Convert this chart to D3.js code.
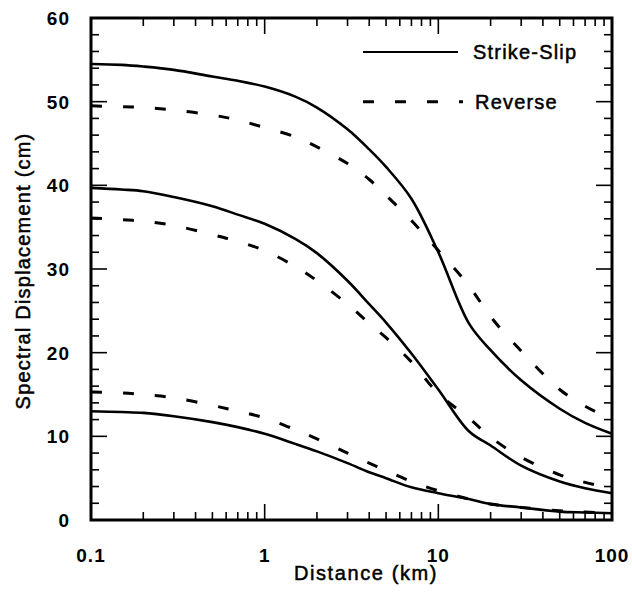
<!DOCTYPE html>
<html><head><meta charset="utf-8">
<script src="https://cdn.jsdelivr.net/npm/d3@7"></script>
<style>body{margin:0;background:#fff}svg{display:block}</style>
</head><body>
<svg id="c" width="632" height="596"></svg>
<script>
const distances = [0.1,0.15,0.2,0.3,0.5,0.7,1,1.5,2,3,4,5,7,10,15,20,30,50,70,100];
const ssUpper  = [54.5,54.4,54.2,53.8,53.0,52.5,51.8,50.6,49.3,46.7,44.3,42.2,38.4,32.0,23.5,20.3,16.7,13.3,11.6,10.3];
const revUpper = [49.5,49.4,49.3,49.0,48.4,47.8,46.9,45.8,44.6,42.6,40.7,38.8,35.8,32.2,28.0,24.3,20.2,15.6,13.6,12.0];
const ssMid    = [39.7,39.5,39.3,38.6,37.5,36.5,35.4,33.6,31.9,28.6,25.8,23.6,19.9,15.6,10.6,8.9,6.5,4.6,3.8,3.2];
const revMid   = [36.1,35.9,35.7,35.2,34.1,33.3,32.2,30.3,28.6,25.8,23.5,21.8,18.9,15.1,12.2,9.9,7.5,5.4,4.5,3.8];
const ssLow    = [13.0,12.9,12.8,12.4,11.7,11.1,10.3,9.1,8.2,6.8,5.7,5.0,3.9,3.2,2.5,1.9,1.5,1.0,0.9,0.8];
const revLow   = [15.3,15.2,15.0,14.6,13.7,13.0,12.2,10.8,9.7,8.0,6.8,5.9,4.6,3.5,2.5,1.9,1.5,1.1,0.95,0.85];
const xTickValues = [0.1,1,10,100];
const xTickLabels = ["0.1","1","10","100"];
const yTickValues = [0,10,20,30,40,50,60];
const legendLabels = ["Strike-Slip","Reverse"];

const svg = d3.select("#c");
const L=91, R=612, T=18, B=520;
const x = d3.scaleLog().domain([0.1,100]).range([L,R]);
const y = d3.scaleLinear().domain([0,60]).range([B,T]);
const font = "'Liberation Sans', Arial, Helvetica, sans-serif";

const minorY = d3.range(0,61,2);
const logTicks = [];
[0.1,1,10].forEach(d=>{for(let k=1;k<10;k++) logTicks.push(d*k);}); logTicks.push(100);
const isMajorX = v => [0.1,1,10,100].some(m=>Math.abs(v-m)<1e-9);

const tk = svg.append("g").attr("stroke","#000").attr("stroke-width",1.6);
minorY.forEach(v=>{
  const len = v%10===0 ? 16 : 8;
  tk.append("line").attr("x1",L).attr("x2",L+len).attr("y1",y(v)).attr("y2",y(v));
  tk.append("line").attr("x1",R).attr("x2",R-len).attr("y1",y(v)).attr("y2",y(v));
});
logTicks.forEach(v=>{
  const len = isMajorX(v) ? 16 : 8;
  tk.append("line").attr("x1",x(v)).attr("x2",x(v)).attr("y1",T).attr("y2",T+len);
  tk.append("line").attr("x1",x(v)).attr("x2",x(v)).attr("y1",B).attr("y2",B-len);
});

svg.append("rect").attr("x",L).attr("y",T).attr("width",R-L).attr("height",B-T)
  .attr("fill","none").attr("stroke","#000").attr("stroke-width",3);

const yl = svg.append("g").attr("font-family",font).attr("font-size",19).attr("font-weight","bold")
  .attr("fill","#000").attr("text-anchor","end");
yTickValues.forEach(v=>{
  yl.append("text").attr("x",70).attr("y",y(v)+7).attr("letter-spacing",1).text(v);
});
const xl = svg.append("g").attr("font-family",font).attr("font-size",19).attr("font-weight","bold")
  .attr("fill","#000").attr("text-anchor","middle");
xTickValues.forEach((v,i)=>{
  xl.append("text").attr("x",x(v)).attr("y",562).attr("letter-spacing",1).text(xTickLabels[i]);
});

svg.append("text").attr("x",366).attr("y",580).attr("text-anchor","middle")
  .attr("font-family",font).attr("font-size",20).attr("letter-spacing",1.6)
  .attr("stroke","#000").attr("stroke-width",0.5).text("Distance (km)");
svg.append("text").attr("transform","translate(30,271) rotate(-90)").attr("text-anchor","middle")
  .attr("font-family",font).attr("font-size",20).attr("letter-spacing",1.2)
  .attr("stroke","#000").attr("stroke-width",0.5).text("Spectral Displacement (cm)");

const line = d3.line().x((d,i)=>x(distances[i])).y(d=>y(d)).curve(d3.curveCatmullRom.alpha(0.5));
const series = [
  {v:ssUpper, dash:null},{v:revUpper, dash:"11,21"},
  {v:ssMid, dash:null},{v:revMid, dash:"11,21"},
  {v:ssLow, dash:null},{v:revLow, dash:"11,21"}
];
series.forEach(s=>{
  svg.append("path").attr("d",line(s.v)).attr("fill","none").attr("stroke","#000")
    .attr("stroke-width",s.dash?3:2.6).attr("stroke-dasharray",s.dash);
});

svg.append("line").attr("x1",363).attr("x2",458).attr("y1",52).attr("y2",52)
  .attr("stroke","#000").attr("stroke-width",2);
svg.append("line").attr("x1",363).attr("x2",463).attr("y1",y(50)).attr("y2",y(50))
  .attr("stroke","#000").attr("stroke-width",3).attr("stroke-dasharray","11,21");
svg.append("text").attr("x",473).attr("y",59).attr("font-family",font).attr("font-size",20)
  .attr("letter-spacing",1.2).attr("stroke","#000").attr("stroke-width",0.5).text(legendLabels[0]);
svg.append("text").attr("x",475).attr("y",y(50)+7).attr("font-family",font).attr("font-size",20)
  .attr("letter-spacing",1.2).attr("stroke","#000").attr("stroke-width",0.5).text(legendLabels[1]);
</script>
</body></html>
